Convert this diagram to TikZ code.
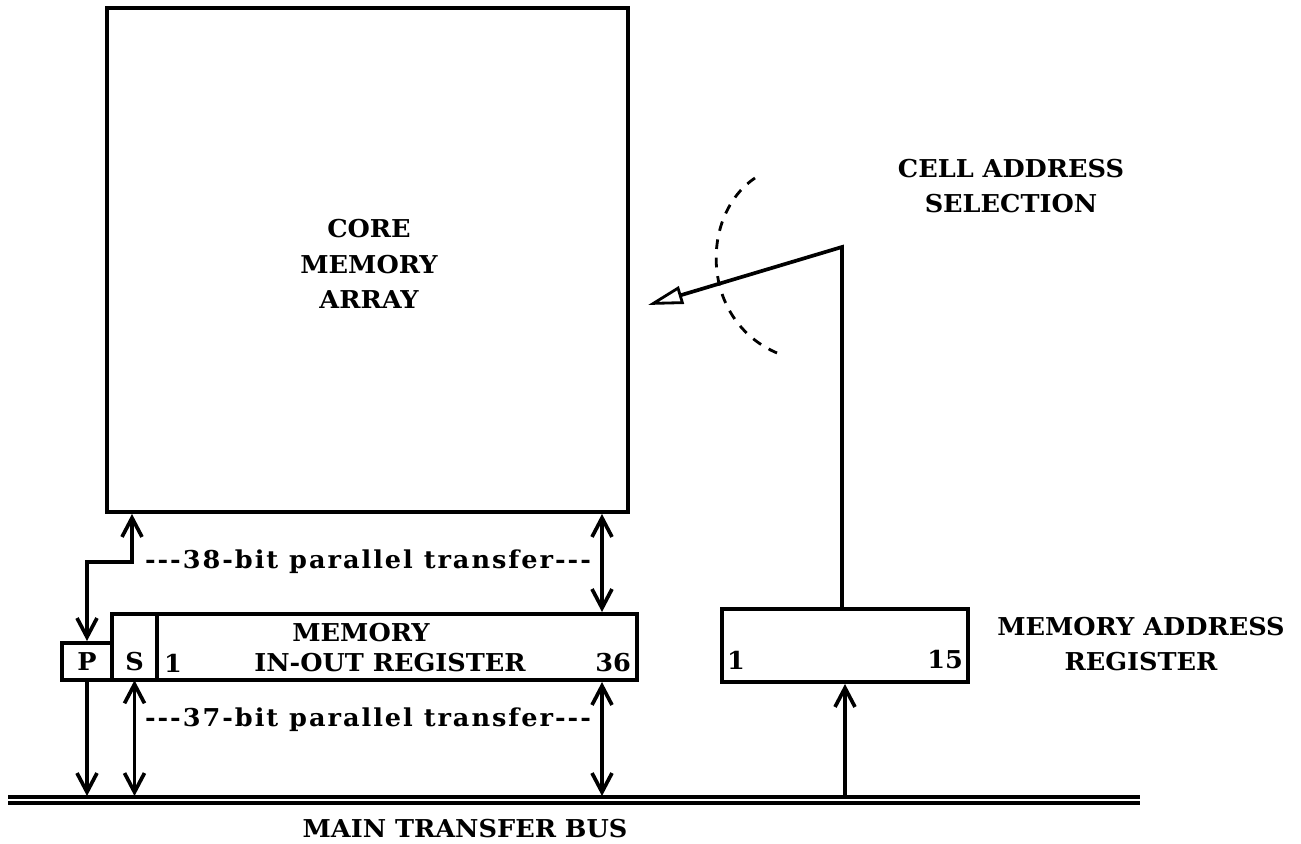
\documentclass[tikz,border=0pt]{standalone}
\usepackage{fontspec}
\setmainfont{DejaVu Serif}[FakeStretch=1.04]
\usetikzlibrary{arrows.meta}

\tikzset{
  wire/.style={line width=2.1pt},
  reg/.style={draw, line width=2.3pt, inner sep=0pt},
  barb/.style={-{Straight Barb[length=3.8mm,width=4mm]}},
  dbarb/.style={{Straight Barb[length=3.8mm,width=4mm]}-{Straight Barb[length=3.8mm,width=4mm]}},
  busline/.style={double, line width=2.6pt, double distance=0.8pt},
  xfer/.style={font=\bfseries\fontsize{14}{20}\selectfont\addfontfeature{LetterSpace=8}},
}

\begin{document}
\begin{tikzpicture}[x=0.02cm, y=-0.02cm, font=\bfseries\fontsize{14}{20}\selectfont]
    \useasboundingbox (0,0) rectangle (1301,844);

    % Speicherfeld
    \node[reg, minimum width=10.42cm, minimum height=10.08cm] (core) at (367.5,260) {};
    \node[align=center] (coretxt) at (369,264) {CORE\\MEMORY\\ARRAY};

    % Ein-/Ausgaberegister mit P- und S-Bit
    \node[reg, minimum width=10.5cm, minimum height=1.32cm] (mior) at (374.5,647) {};
    \node[minimum width=0.9cm, minimum height=1.32cm, inner sep=0pt] (S) at (134.5,647) {};
    \node (Stxt) at (134.5,662) {S};
    \draw[line width=2.3pt] (S.north east) -- (S.south east);
    \node[reg, minimum width=1cm, minimum height=0.74cm] (P) at (87,661.5) {P};
    \node (miortxt1) at (361,633) {MEMORY};
    \node (miortxt2) at (390,663) {IN-OUT REGISTER};
    \node[anchor=west, inner sep=1pt] (mior1) at (162,663) {1};
    \node[anchor=east, inner sep=1pt] (mior36) at (633,663) {36};

    % Adressregister
    \node[reg, minimum width=4.92cm, minimum height=1.46cm] (mar) at (845,645.5) {};
    \node[anchor=west, inner sep=1pt] (mar1) at (725,660) {1};
    \node[anchor=east, inner sep=1pt] (mar15) at (965,660) {15};
    \node[align=center] (martxt) at (1141,644) {MEMORY ADDRESS\\REGISTER};

    % Hauptbus
    \coordinate (busW) at (8,800);
    \coordinate (busE) at (1140,800);
    \coordinate (busT) at (8,796);
    \draw[busline] (busW) -- (busE);
    \node[inner sep=1pt] (bustxt) at (465,829) {MAIN TRANSFER BUS};

    % 38-Bit-Transfer
    \coordinate (jl) at (132,562);
    \coordinate (jr) at (602,562);
    \draw[wire, dbarb] (core.south -| jl) -- (jl) -| (P.north);
    \draw[wire, dbarb] (core.south -| jr) -- (mior.north -| jr);
    \node[xfer] (t38) at (368,562) {-{}-{}-38-bit parallel transfer-{}-{}-};

    % 37-Bit-Transfer
    \draw[wire, barb] (P.south) -- (P.south |- busT);
    \draw[wire, dbarb] (S.south) -- (S.south |- busT);
    \draw[wire, dbarb] (mior.south -| jr) -- (jr |- busT);
    \node[xfer] (t37) at (368,720) {-{}-{}-37-bit parallel transfer-{}-{}-};
    \draw[wire, barb] (mar.south |- busT) -- (mar.south);

    % Zellauswahl
    \coordinate (selk) at (842,247);
    \coordinate (seltip) at (648,305);
    \draw[wire, -{Triangle[open, length=7mm, width=3.6mm, line width=1.6pt]}] (mar.north -| selk) -- (selk) -- (seltip);
    \draw[line width=1.6pt, dash pattern=on 5.5pt off 5pt] (755,178) .. controls (700,215) and (700,320) .. (777,353);
    \node[align=center] (seltxt) at (1011,186) {CELL ADDRESS\\SELECTION};
\end{tikzpicture}
\end{document}
